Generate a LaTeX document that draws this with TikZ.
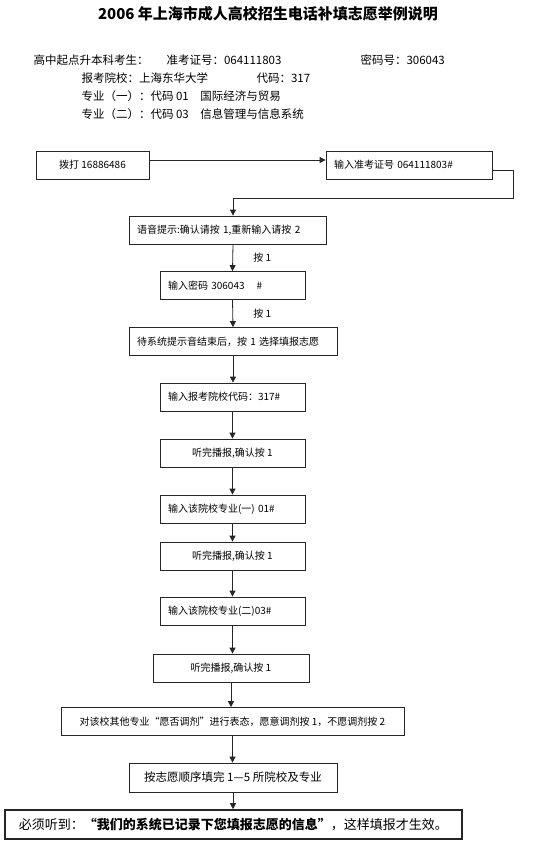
\documentclass[tikz,border=0pt]{standalone}
\usepackage{fontspec}
\setmainfont{Noto Sans CJK SC}
\usetikzlibrary{arrows.meta}

\begin{document}
\begin{tikzpicture}[x=1pt,y=-1pt,
    stepbox/.style={draw=black!85,line width=0.8pt,minimum height=28,inner sep=0pt,
                    font=\fontsize{10}{12}\selectfont},
    leftbox/.style={stepbox,align=left,inner xsep=8pt},
    flow/.style={draw=black!85,line width=0.8pt,-{Triangle[length=6pt,width=6pt]}},
    head/.style={anchor=west,font=\fontsize{11.5}{13}\selectfont},
    presslab/.style={font=\fontsize{10}{12}\selectfont}]
  \useasboundingbox[fill=white] (0,0) rectangle (540,844);

  \node[font=\fontsize{15}{17}\selectfont\bfseries] (title) at (268,14)
        {2006 年上海市成人高校招生电话补填志愿举例说明};

  % candidate data, four lines under the title
  \node[head] (kind)   at (30,60)  {高中起点升本科考生：};
  \node[head] (examno) at (163,60) {准考证号：064111803};
  \node[head] (passno) at (357,60) {密码号：306043};
  \node[head] (univ)   at (78,78)  {报考院校：上海东华大学};
  \node[head] (univno) at (253,78) {代码：317};
  \node[head] (major1) at (78,96)  {专业（一）：代码 01\hspace{1em}国际经济与贸易};
  \node[head] (major2) at (78,114) {专业（二）：代码 03\hspace{1em}信息管理与信息系统};

  % the call, step by step
  \node[stepbox,minimum width=113] (dial) at (92.5,165) {拨打 16886486};
  \node[leftbox,text width=150pt] (idno) at (409,165) {输入准考证号 064111803\#};
  \node[leftbox,text width=181pt] (ask) at (227.5,230) {语音提示:确认请按 1,重新输入请按 2};
  \node[leftbox,text width=129pt] (pwd) at (232.5,285.5) {输入密码 306043\hspace{1.2em}\#};
  \node[leftbox,text width=192pt] (wait) at (233,341.5) {待系统提示音结束后，按 1 选择填报志愿};
  \node[leftbox,text width=129pt] (sch) at (232.5,397) {输入报考院校代码：317\#};
  \node[stepbox,minimum width=145] (conf1) at (232.5,453) {听完播报,确认按 1};
  \node[leftbox,text width=129pt] (maj1) at (232.5,509) {输入该院校专业(一) 01\#};
  \node[stepbox,minimum width=145] (conf2) at (232.5,556) {听完播报,确认按 1};
  \node[leftbox,text width=129pt] (maj2) at (232.5,611) {输入该院校专业(二)03\#};
  \node[stepbox,minimum width=156] (conf3) at (231,668) {听完播报,确认按 1};
  \node[stepbox,minimum width=343] (adjust) at (232.5,721.5)
        {对该校其他专业“愿否调剂”进行表态，愿意调剂按 1，不愿调剂按 2};
  \node[stepbox,minimum width=208,minimum height=29,font=\fontsize{11.5}{13}\selectfont]
        (order) at (233,777.5) {按志愿顺序填完 1—5 所院校及专业};
  \node[stepbox,line width=1.6pt,minimum width=457,minimum height=29,
        font=\fontsize{13}{15}\selectfont] (must) at (233.5,824.5)
        {必须听到：{\bfseries “我们的系统已记录下您填报志愿的信息”}，这样填报才生效。};

  \coordinate (bend) at (513,198);
  \draw[flow] ([yshift=5pt]dial.east) -- ([yshift=5pt]idno.west);
  \draw[flow] ([yshift=-5pt]idno.east) -| (bend) -| ([xshift=5.5pt]ask.north);
  \draw[flow] ([xshift=5.5pt]ask.south) -- (pwd.north)
        node[presslab,midway,right=17pt] (press1) {按 1};
  \draw[flow] (pwd.south) -- (wait.north)
        node[presslab,midway,right=17pt] (press2) {按 1};
  \foreach \a/\b in {wait/sch, sch/conf1, conf1/maj1, maj1/conf2, conf2/maj2,
                     maj2/conf3, conf3/adjust, adjust/order, order/must}
     { \draw[flow] (\a.south) -- (\a.south |- \b.north); }
\end{tikzpicture}
\end{document}
